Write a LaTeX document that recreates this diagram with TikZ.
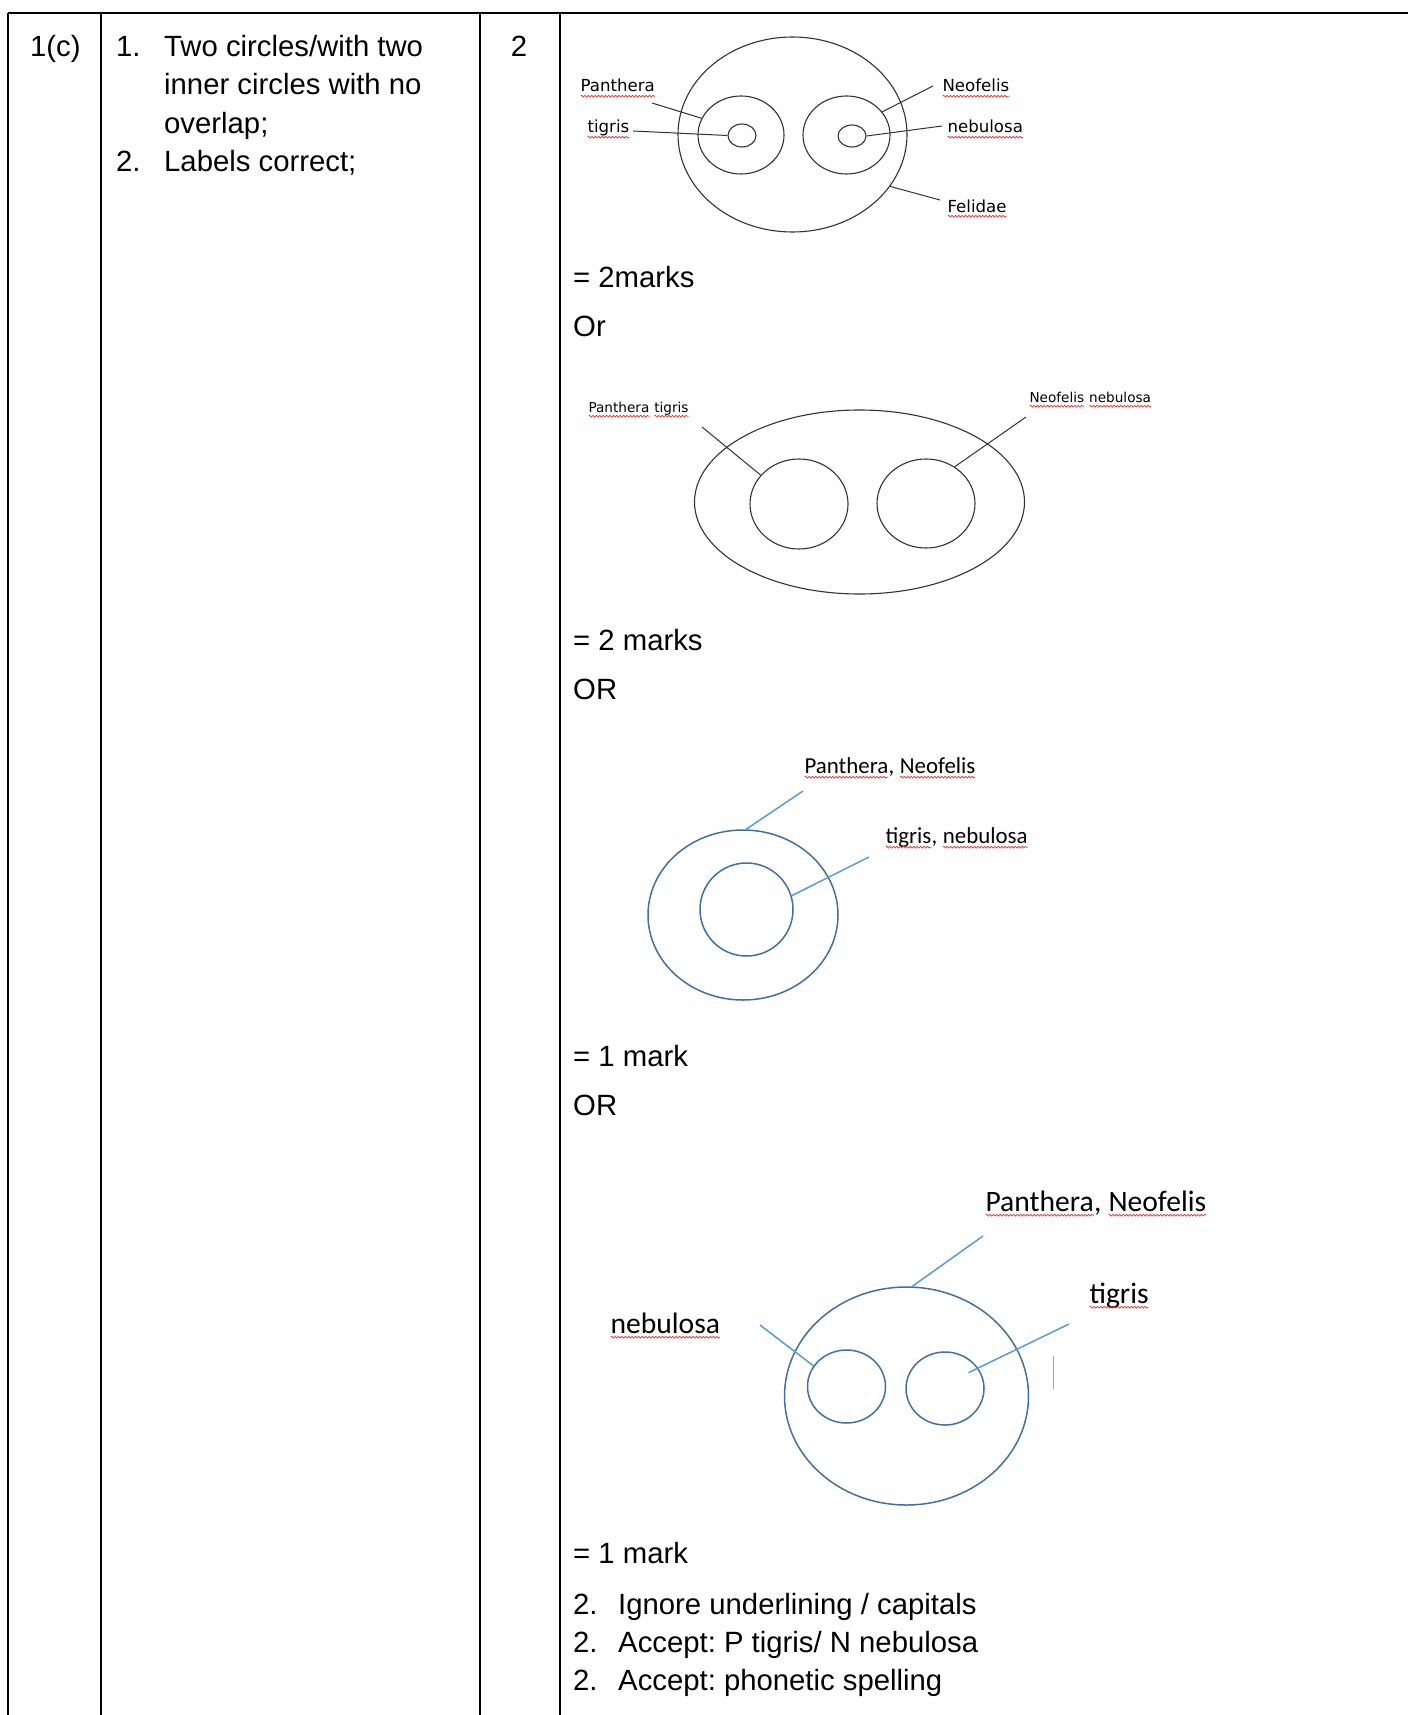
\documentclass[tikz,border=0pt]{standalone}
\usepackage{fontspec}
\setmainfont{Liberation Sans}
\newfontfamily\tahomafont{DejaVu Sans}
\newfontfamily\calibrifont{Carlito}
\usetikzlibrary{shapes.geometric, decorations.pathmorphing, calc}
\frenchspacing

\definecolor{circblue}{HTML}{41719C}
\definecolor{leadblue}{HTML}{5B9BD5}
\definecolor{spellred}{HTML}{E8332E}

\newcommand{\spell}[1]{\tikz[baseline=(w.base)]{\node[inner sep=0pt, outer sep=0pt] (w) {#1};
  \draw[spellred, line width=0.7pt, decorate, decoration={snake, amplitude=0.9pt, segment length=3.4pt}]
    ([yshift=-4.2pt]w.base west) -- ([yshift=-4.2pt]w.base east);}}

\begin{document}
\begin{tikzpicture}[x=1pt, y=-1pt,
    rule/.style={line width=1.8pt},
    body/.style={anchor=base west, inner sep=0pt, font=\fontsize{29.3}{38.3}\selectfont},
    lbla/.style={anchor=base west, inner sep=0pt, font=\tahomafont\fontsize{16.6}{20}\selectfont},
    lblb/.style={anchor=base west, inner sep=0pt, font=\tahomafont\fontsize{13.6}{16}\selectfont},
    lblc/.style={anchor=base west, inner sep=0pt, font=\calibrifont\fontsize{22.9}{27}\selectfont},
    lbld/.style={anchor=base west, inner sep=0pt, font=\calibrifont\fontsize{29.6}{35}\selectfont},
    ring/.style={draw=black!80, ellipse, inner sep=0pt, line width=1.1pt},
    ringblue/.style={ring, draw=circblue, line width=1.5pt},
    lead/.style={black!80, line width=1pt},
    bluelead/.style={leadblue, line width=1.5pt}
  ]
  \fill[white] (0,0) rectangle (1408,1715);
  \useasboundingbox (0,0) rectangle (1408,1715);

  \draw[rule] (8,13) -- (1408,13);
  \foreach \cx in {8,101,480,560}
    \draw[rule] (\cx,13) -- (\cx,1715);

  \node[body] (qnum) at (30,57) {1(c)};
  \node[body] (c1n) at (116,57) {1.};
  \node[body] (c1a) at (164,57) {Two circles/with two};
  \node[body] (c1b) at (164,95) {inner circles with no};
  \node[body] (c1c) at (164,134) {overlap;};
  \node[body] (c2n) at (116,172) {2.};
  \node[body] (c2a) at (164,172) {Labels correct;};
  \node[body, anchor=base] (mark) at (519,57) {2};

  \node[ring, minimum width=229pt, minimum height=195pt] (felA) at (792.5,134.5) {};
  \node[ring, minimum width=86pt, minimum height=78pt] (panA) at (741,135) {};
  \node[ring, minimum width=28pt, minimum height=23pt] (tigA) at (742,135.5) {};
  \node[ring, minimum width=87pt, minimum height=78pt] (neoA) at (846.5,135) {};
  \node[ring, minimum width=28pt, minimum height=22pt] (nebA) at (852,136) {};
  \node[lbla] (lpanA) at (580,92) {\spell{Panthera}};
  \node[lbla] (ltigA) at (587,133) {\spell{tigris}};
  \node[lbla] (lneoA) at (942,92) {\spell{Neofelis}};
  \node[lbla] (lnebA) at (947,133) {\spell{nebulosa}};
  \node[lbla] (lfelA) at (947,212) {\spell{Felidae}};
  \coordinate (ppanA) at (652,103);
  \coordinate (ptigA) at (633,131);
  \coordinate (pneoA) at (933,86);
  \coordinate (pnebA) at (942,126);
  \coordinate (pfelA) at (940,200);
  \draw[lead] (ppanA) -- (panA.157);
  \draw[lead] (ptigA) -- (tigA.west);
  \draw[lead] (pneoA) -- (neoA.33);
  \draw[lead] (pnebA) -- (nebA.east);
  \draw[lead] (pfelA) -- (felA.-28);

  \node[body] (eq2a) at (573,287) {= 2marks};
  \node[body] (or1) at (573,336) {Or};

  \node[ring, minimum width=330pt, minimum height=184pt] (felB) at (859.5,502) {};
  \node[ring, minimum width=98pt, minimum height=90pt] (panB) at (799,504) {};
  \node[ring, minimum width=98pt, minimum height=89pt] (neoB) at (926,503.5) {};
  \node[lblb] (lpanB) at (588,412) {\spell{Panthera} \spell{tigris}};
  \node[lblb] (lneoB) at (1029,402) {\spell{Neofelis} \spell{nebulosa}};
  \coordinate (ppanB) at (702,427);
  \coordinate (pneoB) at (1026,417);
  \draw[lead] (ppanB) -- (panB.143);
  \draw[lead] (pneoB) -- (neoB.52);

  \node[body] (eq2b) at (573,650) {= 2 marks};
  \node[body] (or2) at (573,699) {OR};

  \node[ringblue, minimum width=190pt, minimum height=170pt] (genC) at (743,915) {};
  \node[ringblue, minimum width=93pt, minimum height=93pt] (spC) at (746.5,909.5) {};
  \node[lblc] (lgenC) at (804,773) {\spell{Panthera}, \spell{Neofelis}};
  \node[lblc] (lspC) at (885,843) {\spell{tigris}, \spell{nebulosa}};
  \coordinate (pgenC) at (803,791);
  \coordinate (pspC) at (869,857);
  \draw[bluelead] (pgenC) -- (genC.88);
  \draw[bluelead] (pspC) -- (spC.17);

  \node[body] (eq1a) at (573,1066) {= 1 mark};
  \node[body] (or3) at (573,1115) {OR};

  \node[ringblue, minimum width=244pt, minimum height=218pt] (felD) at (906.5,1396) {};
  \node[ringblue, minimum width=78pt, minimum height=73pt] (nebD) at (846.5,1386.5) {};
  \node[ringblue, minimum width=78pt, minimum height=73pt] (tigD) at (945,1388.5) {};
  \node[lbld] (lgenD) at (985,1211) {\spell{Panthera}, \spell{Neofelis}};
  \node[lbld] (ltigD) at (1089,1303) {\spell{tigris}};
  \node[lbld] (lnebD) at (610,1333) {\spell{nebulosa}};
  \coordinate (pgenD) at (983,1236);
  \coordinate (ptigD) at (1069,1324);
  \coordinate (pnebD) at (760,1325);
  \draw[bluelead] (pgenD) -- (felD.87);
  \draw[bluelead] (ptigD) -- ($(tigD.center)!0.73!(tigD.34)$);
  \draw[bluelead] (pnebD) -- (nebD.148);
  \coordinate (bartop) at (1053.5,1356);
  \coordinate (barbot) at (1053.5,1389);
  \draw[black!35, line width=1.3pt] (bartop) -- (barbot);

  \node[body] (eq1b) at (573,1563) {= 1 mark};
  \foreach \txt [count=\i] in {Ignore underlining / capitals, Accept: P tigris/ N nebulosa, Accept: phonetic spelling} {
    \node[body] (noten\i) at (573,1576+38*\i) {2.};
    \node[body] (note\i) at (618,1576+38*\i) {\txt};
  }
\end{tikzpicture}
\end{document}
